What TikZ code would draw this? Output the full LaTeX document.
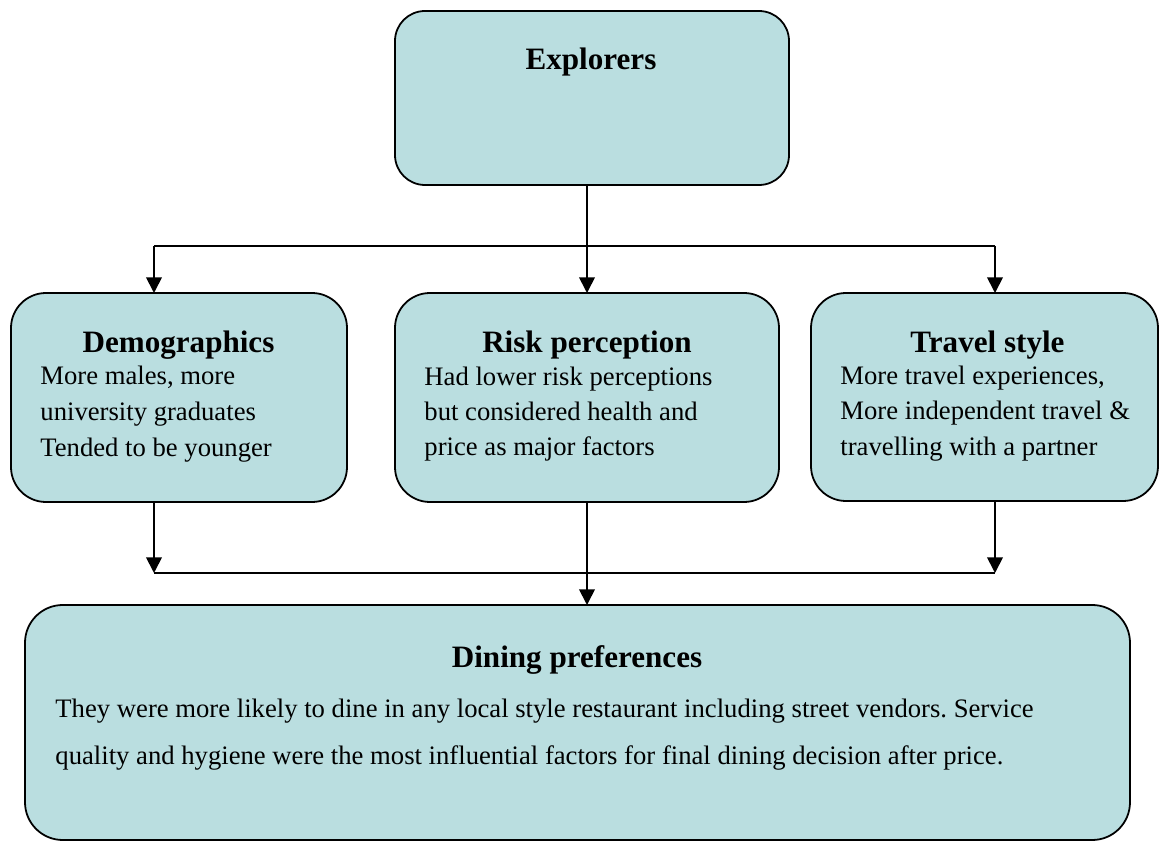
\documentclass[tikz,border=0pt]{standalone}
\usepackage{fontspec}
\setmainfont{Liberation Serif}
\usetikzlibrary{arrows.meta}
\definecolor{boxfill}{RGB}{186,222,224}
\frenchspacing
\begin{document}
\begin{tikzpicture}[x=0.45pt,y=-0.45pt,
  box/.style={draw=black,line width=0.8pt,fill=boxfill,inner sep=0pt,outer sep=0pt},
  heading/.style={inner sep=0pt,anchor=base,font=\bfseries\fontsize{14}{16}\selectfont},
  bodyline/.style={inner sep=0pt,anchor=base west,font=\fontsize{12}{14}\selectfont},
  link/.style={line width=0.8pt},
  arr/.style={link,-{Triangle[length=7pt,width=7pt]}}]
\useasboundingbox (0,0) rectangle (1160,842);

% boxes
\node[box,rounded corners=13.5pt,minimum width=177.3pt,minimum height=78.3pt] (expl) at (592,98) {};
\node[box,rounded corners=15.75pt,minimum width=151.2pt,minimum height=94.05pt] (demo) at (179,397.5) {};
\node[box,rounded corners=15.75pt,minimum width=172.8pt,minimum height=94.05pt] (risk) at (587,397.5) {};
\node[box,rounded corners=15.75pt,minimum width=156.15pt,minimum height=93.6pt] (trav) at (984.5,397) {};
\node[box,rounded corners=17pt,minimum width=497.25pt,minimum height=105.75pt] (dine) at (577.5,722.5) {};

% texts
\node[heading] (explT) at (591,70) {Explorers};

\node[heading] (demoT) at (178.5,353) {Demographics};
\node[bodyline] (demo1) at (40,385) {More males, more};
\node[bodyline] (demo2) at (40,421) {university graduates};
\node[bodyline] (demo3) at (40,457) {Tended to be younger};

\node[heading] (riskT) at (587,353) {Risk perception};
\node[bodyline] (risk1) at (424,386) {Had lower risk perceptions};
\node[bodyline] (risk2) at (424,421) {but considered health and};
\node[bodyline] (risk3) at (424,456) {price as major factors};

\node[heading] (travT) at (987.5,353) {Travel style};
\node[bodyline] (trav1) at (840,385) {More travel experiences,};
\node[bodyline] (trav2) at (840,420) {More independent travel \&};
\node[bodyline] (trav3) at (840,456) {travelling with a partner};

\node[heading] (dineT) at (577,668) {Dining preferences};
\node[bodyline] (dine1) at (55,717) {They were more likely to dine in any local style restaurant including street vendors. Service};
\node[bodyline] (dine2) at (55,765) {quality and hygiene were the most influential factors for final dining decision after price.};

% connectors
\coordinate (splitL) at (154,246);
\coordinate (splitR) at (995,246);
\coordinate (joinL) at (154,573);
\coordinate (joinR) at (995,573);

\draw[arr] (expl.south -| risk.north) -- (risk.north);
\draw[link] (splitL) -- (splitR);
\draw[arr] (splitL) -- (splitL |- demo.north);
\draw[arr] (splitR) -- (splitR |- trav.north);

\draw[arr] (joinL |- demo.south) -- (joinL);
\draw[arr] (joinR |- trav.south) -- (joinR);
\draw[link] (joinL) -- (joinR);
\draw[arr] (risk.south) -- (risk.south |- dine.north);
\end{tikzpicture}
\end{document}
